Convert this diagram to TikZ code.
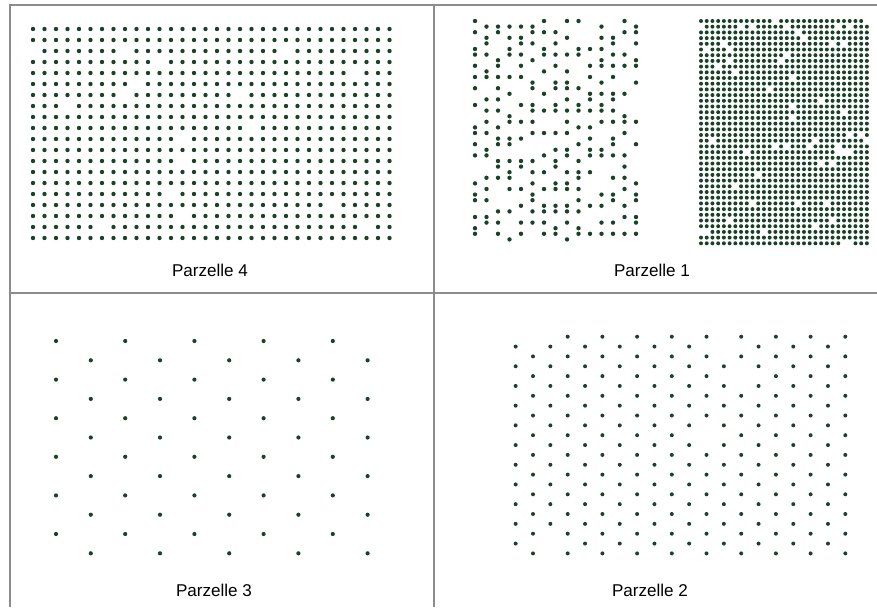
\documentclass[tikz,border=0pt]{standalone}
\usepackage{fontspec}
\setmainfont{Liberation Sans}
\definecolor{dotgreen}{RGB}{26,66,40}
\definecolor{framegray}{RGB}{140,140,140}
\tikzset{
  frameline/.style={draw=framegray, line width=1.1pt},
  plotlabel/.style={font=\fontsize{12.8}{14}\selectfont},
}
\begin{document}
\begin{tikzpicture}[x=0.75pt, y=-0.75pt]
        \useasboundingbox (0,0) rectangle (877,607);
        % frame
        \draw[frameline] (10,607) -- (10,5) -- (877,5);
        \draw[frameline] (434,5) -- (434,607);
        \draw[frameline] (10,293) -- (877,293);
        % Parzelle 4: square grid
        \pgfmathsetseed{7}
        \foreach \r in {0,...,19} {
            \foreach \c in {0,...,31} {
                \pgfmathparse{rnd}
                \ifdim\pgfmathresult pt>0.035pt
                    \fill[dotgreen] (33+11.5*\c, 29+11*\r) circle (2.2);
                \fi
            }
        }
        % Parzelle 1: loose columns, each dot up or down half a row
        \foreach \c in {0,...,14} {
            \foreach \k in {0,...,19} {
                \pgfmathparse{rnd}
                \ifdim\pgfmathresult pt<0.8pt
                    \pgfmathtruncatemacro{\b}{rnd<0.45 ? 1 : 0}
                    \fill[dotgreen] (475+11.5*\c, 21+11.2*\k+5.6*\b) circle (2.2);
                \fi
            }
        }
        % Parzelle 1: dense block
        \foreach \c in {0,...,29} {
            \foreach \r in {0,...,39} {
                \pgfmathparse{rnd}
                \ifdim\pgfmathresult pt>0.05pt
                    \fill[dotgreen] (701+5.72*\c, 21+5.7*\r) circle (2.0);
                \fi
            }
        }
        % Parzelle 3: wide offset rows
        \foreach \r in {0,...,11} {
            \foreach \c in {0,...,4} {
                \fill[dotgreen] ({56+69.2*\c+34.8*mod(\r,2)}, 341+19.3*\r) circle (2.1);
            }
        }
        % Parzelle 2: close offset rows
        \foreach \r in {0,...,22} {
            \foreach \c in {0,...,9} {
                \pgfmathparse{rnd}
                \ifdim\pgfmathresult pt>0.03pt
                    \fill[dotgreen] ({533-17.35*mod(\r,2)+34.7*\c}, 336.7+9.85*\r) circle (2.0);
                \fi
            }
        }
        % labels
        \node[plotlabel] (label4) at (210,270) {Parzelle 4};
        \node[plotlabel] (label1) at (652,270) {Parzelle 1};
        \node[plotlabel] (label3) at (214,590) {Parzelle 3};
        \node[plotlabel] (label2) at (650,590) {Parzelle 2};
\end{tikzpicture}
\end{document}
